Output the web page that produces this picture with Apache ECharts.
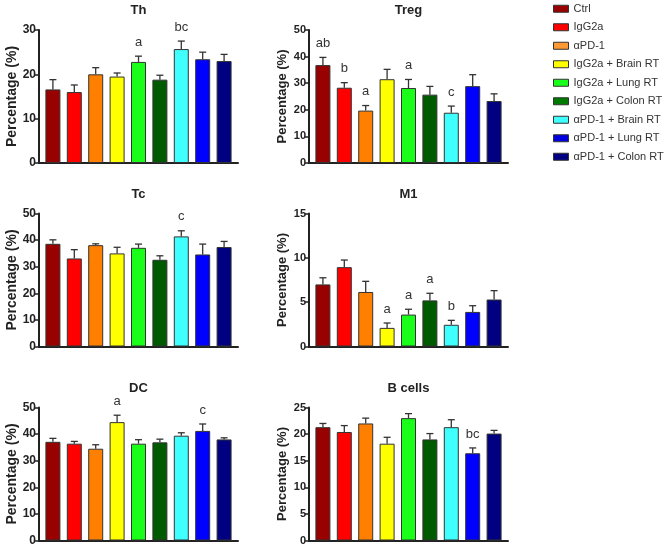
<!DOCTYPE html>
<html>
<head>
<meta charset="utf-8">
<script src="https://cdn.jsdelivr.net/npm/echarts@6/dist/echarts.min.js"></script>
<style>
html, body { margin: 0; background: #fff; }
#chart { width: 669px; height: 547px; }
</style>
</head>
<body>
<div id="chart"></div>
<script>
// groups (legend order)
var groups = ['Ctrl', 'IgG2a', 'αPD-1', 'IgG2a + Brain RT', 'IgG2a + Lung RT',
    'IgG2a + Colon RT', 'αPD-1 + Brain RT', 'αPD-1 + Lung RT', 'αPD-1 + Colon RT'];
var barColors = ['#990000', '#ff0000', '#ff8000', '#ffff00', '#1aff1a',
    '#005a00', '#40ffff', '#0000ff', '#000080'];
var legendColors = ['#990000', '#ff0000', '#ff9933', '#ffff00', '#1aff1a',
    '#007a00', '#40ffff', '#0000dd', '#000080'];

// mean and SEM for each panel
var thMean = [16.6, 16.0, 20.0, 19.5, 22.8, 18.8, 25.7, 23.4, 23.0];
var thErr = [2.2, 1.6, 1.5, 0.8, 1.3, 1.0, 1.8, 1.6, 1.5];
var thLetters = ['', '', '', '', 'a', '', 'bc', '', ''];

var tregMean = [36.8, 28.3, 19.7, 31.5, 28.2, 25.7, 18.9, 28.9, 23.3];
var tregErr = [2.9, 1.9, 1.9, 3.7, 3.2, 3.1, 2.5, 4.3, 2.7];
var tregLetters = ['ab', 'b', 'a', '', 'a', '', 'c', '', ''];

var tcMean = [38.6, 33.1, 38.1, 35.0, 37.1, 32.6, 41.4, 34.6, 37.4];
var tcErr = [1.5, 3.3, 0.5, 2.3, 1.4, 1.5, 2.1, 3.9, 2.1];
var tcLetters = ['', '', '', '', '', '', 'c', '', ''];

var m1Mean = [7.0, 8.95, 6.15, 2.1, 3.6, 5.2, 2.45, 3.9, 5.3];
var m1Err = [0.75, 0.8, 1.2, 0.55, 0.6, 0.8, 0.5, 0.7, 1.0];
var m1Letters = ['', '', '', 'a', 'a', 'a', 'b', '', ''];

var dcMean = [37.1, 36.4, 34.5, 44.5, 36.4, 36.9, 39.4, 41.2, 38.0];
var dcErr = [1.3, 0.85, 1.5, 2.6, 1.5, 1.2, 1.1, 2.6, 0.6];
var dcLetters = ['', '', '', 'a', '', '', '', 'c', ''];

var bMean = [21.3, 20.4, 22.0, 18.2, 23.0, 19.0, 21.3, 16.4, 20.1];
var bErr = [0.7, 1.2, 1.0, 1.2, 0.85, 1.1, 1.4, 1.0, 0.6];
var bLetters = ['', '', '', '', '', '', '', 'bc', ''];

var panels = [
    { title: 'Th', mean: thMean, err: thErr, letters: thLetters, max: 30, step: 10 },
    { title: 'Treg', mean: tregMean, err: tregErr, letters: tregLetters, max: 50, step: 10 },
    { title: 'Tc', mean: tcMean, err: tcErr, letters: tcLetters, max: 50, step: 10 },
    { title: 'M1', mean: m1Mean, err: m1Err, letters: m1Letters, max: 15, step: 5 },
    { title: 'DC', mean: dcMean, err: dcErr, letters: dcLetters, max: 50, step: 10 },
    { title: 'B cells', mean: bMean, err: bErr, letters: bLetters, max: 25, step: 5 }
];

// layout: left column / right column, three rows
var lefts = [39, 309];
var tops = [30, 213.5, 407.5];
var gw = 199, gh = 133;

var chart = echarts.init(document.getElementById('chart'));

var grids = [], xAxes = [], yAxes = [], titles = [], series = [];

function errRender(panel) {
    return function (params, api) {
        var i = api.value(0), m = api.value(1), e = api.value(2);
        var base = api.coord([i, m]);
        var top = api.coord([i, m + e]);
        var st = { stroke: '#333', lineWidth: 1.3 };
        var kids = [
            { type: 'line', shape: { x1: base[0], y1: base[1], x2: top[0], y2: top[1] }, style: st },
            { type: 'line', shape: { x1: top[0] - 3.5, y1: top[1], x2: top[0] + 3.5, y2: top[1] }, style: st }
        ];
        var t = panel.letters[params.dataIndex];
        if (t) {
            kids.push({
                type: 'text',
                style: { text: t, x: top[0], y: top[1] - 14, align: 'center', verticalAlign: 'middle',
                    fontSize: 13, fontFamily: 'Liberation Sans', fill: '#333' }
            });
        }
        return { type: 'group', children: kids };
    };
}

panels.forEach(function (p, k) {
    var col = k % 2, row = Math.floor(k / 2);
    var left = lefts[col], top = tops[row];
    grids.push({ left: left, top: top, width: gw, height: gh });
    titles.push({
        text: p.title, left: left + gw / 2, top: top - 26, textAlign: 'center', padding: 0,
        textStyle: { fontSize: 13, fontWeight: 'bold', color: '#222', fontFamily: 'Liberation Sans' }
    });
    xAxes.push({
        type: 'value', gridIndex: k, min: -0.65, max: 8.65,
        axisLine: { show: true, onZero: false, lineStyle: { color: '#222', width: 2 } },
        axisTick: { show: false }, axisLabel: { show: false }, splitLine: { show: false }
    });
    yAxes.push({
        type: 'value', gridIndex: k, min: 0, max: p.max, interval: p.step,
        name: 'Percentage (%)', nameLocation: 'middle', nameGap: 20,
        nameTextStyle: { fontSize: col === 0 ? 14 : 13, fontWeight: 'bold', color: '#222' },
        axisLine: { show: true, onZero: false, lineStyle: { color: '#222', width: 2 } },
        axisTick: { show: true, length: 4, lineStyle: { color: '#222', width: 1.5 } },
        axisLabel: { fontSize: col === 0 ? 12 : 11, fontWeight: 'bold', color: '#222', margin: 3 },
        splitLine: { show: false }
    });
    series.push({
        type: 'bar', xAxisIndex: k, yAxisIndex: k, barWidth: 15,
        data: p.mean.map(function (v, i) { return [i, v]; }),
        itemStyle: {
            color: function (d) { return barColors[d.dataIndex]; },
            borderColor: '#333', borderWidth: 1
        },
        silent: true
    });
    series.push({
        type: 'custom', xAxisIndex: k, yAxisIndex: k, z: 5,
        encode: { x: 0, y: 1 },
        data: p.mean.map(function (v, i) { return [i, v, p.err[i]]; }),
        renderItem: errRender(p),
        silent: true
    });
});

// hidden grid that only carries the legend entries
grids.push({ left: 0, top: 0, width: 1, height: 1, show: false });
xAxes.push({ type: 'category', gridIndex: 6, show: false, data: ['x'] });
yAxes.push({ type: 'value', gridIndex: 6, show: false });
groups.forEach(function (g, i) {
    series.push({ type: 'bar', name: g, xAxisIndex: 6, yAxisIndex: 6, data: [],
        itemStyle: { color: legendColors[i] } });
});

var option = {
    animation: false,
    textStyle: { fontFamily: 'Liberation Sans' },
    title: titles,
    legend: {
        orient: 'vertical', left: 553, top: 2, padding: 0,
        itemWidth: 15, itemHeight: 7, itemGap: 5, icon: 'rect',
        itemStyle: { borderColor: '#333', borderWidth: 1 },
        textStyle: { fontSize: 11, color: '#333', lineHeight: 13.5 },
        data: groups.map(function (g, i) { return { name: g, itemStyle: { color: legendColors[i] } }; })
    },
    grid: grids,
    xAxis: xAxes,
    yAxis: yAxes,
    series: series
};
chart.setOption(option);
</script>
</body>
</html>
